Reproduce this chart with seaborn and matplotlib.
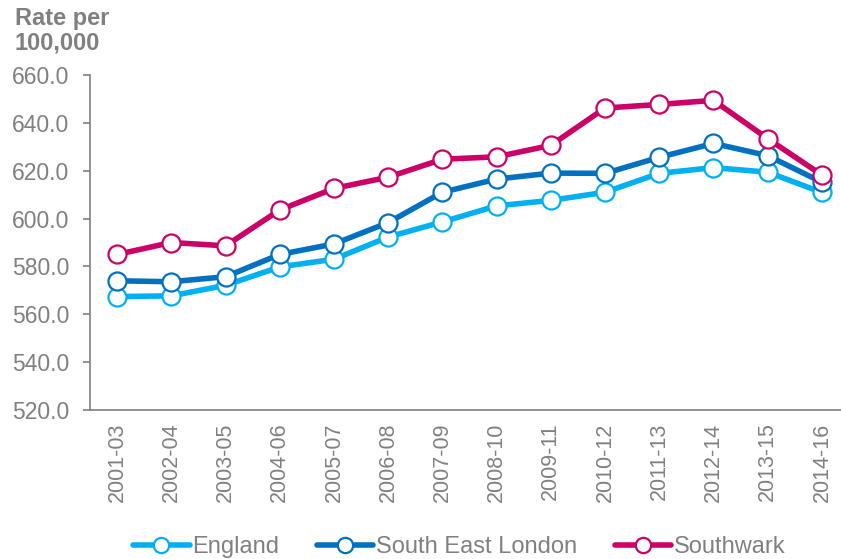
import matplotlib
matplotlib.use("Agg")
import matplotlib.pyplot as plt
import seaborn as sns
import pandas as pd
from matplotlib.lines import Line2D

periods = ["2001-03", "2002-04", "2003-05", "2004-06", "2005-07", "2006-08", "2007-09",
           "2008-10", "2009-11", "2010-12", "2011-13", "2012-14", "2013-15", "2014-16"]
england = [567.4, 567.7, 572.1, 579.8, 583.0, 592.3, 598.6, 605.3, 607.6, 611.0, 618.9, 621.3, 619.4, 610.9]
south_east_london = [574.0, 573.6, 575.7, 585.0, 589.4, 598.3, 611.0, 616.5, 619.0, 618.9, 625.6, 631.4, 626.3, 615.2]
southwark = [585.0, 590.0, 588.6, 603.6, 612.6, 617.3, 624.8, 625.8, 630.6, 646.2, 647.7, 649.4, 633.4, 618.2]

series_names = ["England", "South East London", "Southwark"]
colors = {"England": "#00B0F0", "South East London": "#0070C0", "Southwark": "#CC0066"}

df = pd.DataFrame({
    "period": periods * 3,
    "rate": england + south_east_london + southwark,
    "series": ["England"] * 14 + ["South East London"] * 14 + ["Southwark"] * 14,
})
df["x"] = df["period"].map({p: i for i, p in enumerate(periods)})

sns.set_style("white")
plt.rcParams["font.family"] = ["Liberation Sans", "DejaVu Sans"]
grey = "#808080"

fig = plt.figure(figsize=(8.41, 5.59), dpi=100)
ax = fig.add_axes([90 / 841, 1 - 410 / 559, (849 - 90) / 841, (410 - 75) / 559])

sns.lineplot(data=df, x="x", y="rate", hue="series", hue_order=series_names,
             palette=colors, ax=ax, linewidth=4, marker="o", markersize=13,
             markerfacecolor="white", markeredgewidth=1.6, legend=False, sort=False)
for line, name in zip(ax.lines, series_names):
    line.set_markeredgecolor(colors[name])
    line.set_solid_capstyle("round")

ax.set_ylim(520, 660)
ax.set_yticks(range(520, 661, 20))
ax.set_yticklabels([f"{v:.1f}" for v in range(520, 661, 20)])
ax.set_xlim(-0.5, len(periods) - 0.5)
ax.set_xticks(range(len(periods)))
ax.set_xticklabels(periods, rotation=90)
ax.set_xticks([i - 0.5 for i in range(len(periods) + 1)], minor=True)
ax.tick_params(axis="x", which="major", length=0, pad=9, labelsize=15.5, colors=grey)
ax.tick_params(axis="x", which="minor", length=6, width=1.2, color=grey, direction="out")
ax.tick_params(axis="y", length=5, width=1.2, color=grey, labelsize=16.5, labelcolor=grey, pad=10,
               direction="out", left=True)
ax.set_xlabel("")
ax.set_ylabel("")
for s in ["top", "right"]:
    ax.spines[s].set_visible(False)
for s in ["left", "bottom"]:
    ax.spines[s].set_color(grey)
    ax.spines[s].set_linewidth(1.2)
ax.grid(False)

fig.text(15 / 841, 1 - 7 / 559, "Rate per\n100,000", ha="left", va="top",
         fontsize=17, fontweight="bold", color=grey, linespacing=1.1)

handles = [Line2D([0], [0], color=colors[n], lw=4, marker="o", markersize=11,
                  markerfacecolor="white", markeredgecolor=colors[n], markeredgewidth=1.6,
                  solid_capstyle="round") for n in series_names]
fig.legend(handles, series_names, loc="center", bbox_to_anchor=(0.546, 1 - 547 / 559),
           ncol=3, frameon=False, fontsize=17, labelcolor=grey, handlelength=2.4,
           handletextpad=0.1, columnspacing=1.6, borderaxespad=0)

fig.savefig("out.png", dpi=100)
